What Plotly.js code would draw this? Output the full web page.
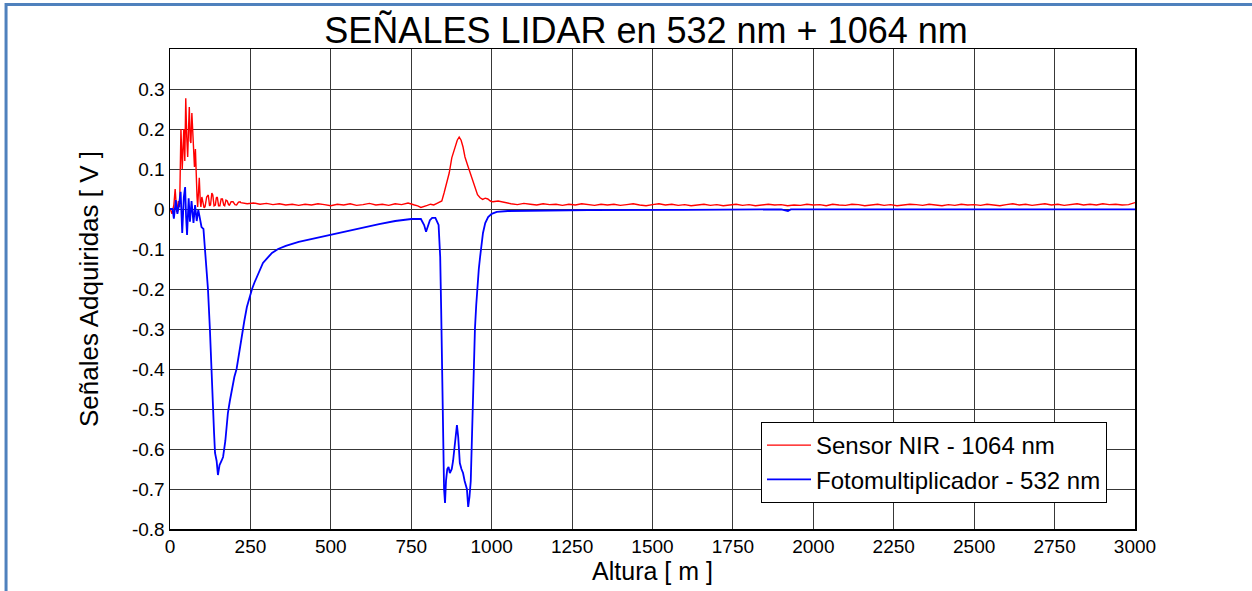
<!DOCTYPE html>
<html>
<head>
<meta charset="utf-8">
<script src="https://cdn.plot.ly/plotly-3.0.1.min.js"></script>
<style>html,body{margin:0;padding:0;background:#fff;}#chart{width:1252px;height:591px;}</style>
</head>
<body>
<div id="chart"></div>
<script>
// ---- Data ----
const chartTitle = "SEÑALES LIDAR en 532 nm + 1064 nm";
const xLabel = "Altura [ m ]";
const yLabel = "Señales Adquiridas [ V ]";
const redName = "Sensor NIR - 1064 nm";
const blueName = "Fotomultiplicador - 532 nm";

const xTickVals = [0,250,500,750,1000,1250,1500,1750,2000,2250,2500,2750,3000];
const xTickText = ["0","250","500","750","1000","1250","1500","1750","2000","2250","2500","2750","3000"];
const yTickVals = [-0.8,-0.7,-0.6,-0.5,-0.4,-0.3,-0.2,-0.1,0,0.1,0.2,0.3];
const yTickText = ["-0.8","-0.7","-0.6","-0.5","-0.4","-0.3","-0.2","-0.1","0","0.1","0.2","0.3"];

const redX = [0,6,12,16,21,26,30,34,38,43,46,49,52,55,58,60,63,65,68,70,73,76,79,81,84,86,89,91,94,96,99,102,106,109,114,119,123,126,130,133,137,141,144,147,151,155,159,163,167,170,174,178,182,185,190,196,202,207,213,218,
  220,240,260,280,300,320,340,360,380,400,420,440,460,480,500,520,540,560,580,600,620,640,660,680,700,720,740,760,770,780,790,800,810,820,830,840,845,852,861,868,876,886,893,899,905,911,917,925,933,940,948,956,964,972,980,988,996,1004,1020,1040,
  1060,1080,1100,1120,1140,1160,1180,1200,1220,1240,1260,1280,1300,1320,1340,1360,1380,1400,1420,1440,1460,1480,1500,1520,1540,1560,1580,1600,1620,1640,1660,1680,1700,1720,1740,1760,1780,1800,1820,1840,1860,1880,1900,1920,1940,1960,1980,2000,2020,2040,2060,2080,2100,2120,2140,2160,2180,2200,2220,2240,2260,2280,2300,2320,2340,2360,2380,2400,2420,2440,2460,2480,2500,2520,2540,2560,2580,2600,2620,2640,2660,2680,2700,2720,2740,2760,2780,2800,2820,2840,2860,2880,2900,2920,2940,2960,2980,3000];
const redY = [0.002,-0.012,0.01,0.05,-0.008,0.02,0.005,0.2,0.1,0.2,0.12,0.277,0.18,0.13,0.21,0.255,0.17,0.165,0.24,0.2,0.12,0.105,0.15,0.07,0.03,0.005,0.04,0.078,0.02,0.005,0.03,0.018,0.003,0.006,0.03,0.035,0.008,0.01,0.04,0.035,0.008,0.01,0.028,0.03,0.008,0.008,0.025,0.025,0.01,0.008,0.022,0.02,0.011,0.01,0.018,0.018,0.011,0.01,0.017,0.018,
  0.016,0.013,0.015,0.012,0.014,0.011,0.013,0.01,0.012,0.009,0.012,0.01,0.013,0.011,0.008,0.012,0.01,0.013,0.009,0.011,0.014,0.01,0.012,0.009,0.013,0.011,0.015,0.01,0.008,0.004,0.006,0.009,0.012,0.01,0.014,0.017,0.02,0.04,0.065,0.09,0.128,0.155,0.172,0.18,0.172,0.155,0.13,0.11,0.09,0.07,0.052,0.036,0.028,0.024,0.027,0.025,0.02,0.018,0.02,0.016,
  0.013,0.011,0.014,0.012,0.01,0.013,0.011,0.012,0.009,0.012,0.01,0.013,0.011,0.009,0.012,0.01,0.012,0.009,0.011,0.013,0.01,0.008,0.011,0.013,0.01,0.012,0.009,0.011,0.008,0.01,0.012,0.009,0.011,0.008,0.01,0.012,0.009,0.011,0.008,0.01,0.012,0.01,0.011,0.008,0.01,0.009,0.012,0.01,0.011,0.008,0.012,0.01,0.009,0.012,0.011,0.008,0.01,0.012,0.009,0.011,0.008,0.01,0.012,0.011,0.009,0.012,0.01,0.008,0.011,0.009,0.012,0.01,0.011,0.009,0.012,0.01,0.008,0.011,0.013,0.01,0.012,0.009,0.011,0.013,0.01,0.012,0.009,0.011,0.013,0.01,0.012,0.01,0.013,0.011,0.012,0.01,0.011,0.016];

const blueX = [0,8,12,18,23,28,33,38,43,47,50,53,58,62,67,73,78,83,88,93,98,104,109,114,118,124,130,133,137,140,145,149,154,160,165,172,180,186,192,200,207,215,223,231,239,247,255,262,270,280,289,303,317,336,360,400,450,500,550,600,650,700,750,780,790,796,802,808,815,825,835,840,843,846,849,852,855,858,862,866,870,876,880,886,892,896,901,906,911,916,923,927,931,935,938,942,945,948,952,955,960,964,968,973,980,989,1000,1016,1050,1120,1300,1600,1900,1921,1930,2000,2500,3000];
const blueY = [0,0,-0.024,0.022,-0.012,0.01,0.043,-0.06,0.03,0.055,-0.02,-0.065,0.027,-0.032,0.02,-0.035,0.01,-0.03,-0.002,-0.023,-0.045,-0.05,-0.1,-0.15,-0.2,-0.3,-0.43,-0.51,-0.56,-0.61,-0.63,-0.665,-0.64,-0.63,-0.62,-0.58,-0.51,-0.48,-0.45,-0.42,-0.4,-0.36,-0.31,-0.28,-0.245,-0.22,-0.2,-0.185,-0.17,-0.15,-0.135,-0.122,-0.11,-0.1,-0.092,-0.082,-0.073,-0.065,-0.056,-0.047,-0.038,-0.03,-0.025,-0.025,-0.04,-0.057,-0.045,-0.028,-0.022,-0.022,-0.04,-0.12,-0.25,-0.4,-0.6,-0.7,-0.735,-0.68,-0.65,-0.645,-0.66,-0.65,-0.63,-0.58,-0.54,-0.57,-0.635,-0.65,-0.66,-0.68,-0.7,-0.745,-0.72,-0.68,-0.58,-0.47,-0.38,-0.3,-0.24,-0.2,-0.15,-0.12,-0.09,-0.06,-0.035,-0.02,-0.012,-0.007,-0.005,-0.004,-0.003,-0.002,-0.001,-0.005,-0.001,-0.001,-0.001,-0.001];

// ---- Chart ----
const FONT = "Liberation Sans, Arial, Helvetica, sans-serif";
const traces = [
  {x: redX, y: redY, type: "scatter", mode: "lines", name: redName,
   line: {color: "#ff0000", width: 1.4}},
  {x: blueX, y: blueY, type: "scatter", mode: "lines", name: blueName,
   line: {color: "#0000ff", width: 1.8}}
];

const layout = {
  width: 1252, height: 591,
  margin: {l: 170, r: 117, t: 49, b: 62, pad: 0},
  paper_bgcolor: "#ffffff", plot_bgcolor: "#ffffff",
  font: {family: FONT, color: "#000000"},
  title: {text: chartTitle, font: {family: FONT, size: 36, color: "#000"},
          x: 0.516, xref: "container", xanchor: "center",
          y: 1 - 30/591, yref: "container", yanchor: "middle"},
  xaxis: {range: [0, 3000], tickmode: "array", tickvals: xTickVals, ticktext: xTickText,
          showgrid: true, gridcolor: "#383838", gridwidth: 1, zeroline: false,
          showline: true, linecolor: "#000", linewidth: 1.5, mirror: true,
          ticks: "", tickfont: {family: FONT, size: 19, color: "#000"},
          title: {text: xLabel, font: {family: FONT, size: 25, color: "#000"}, standoff: 6}},
  yaxis: {range: [-0.8, 0.4], tickmode: "array", tickvals: yTickVals, ticktext: yTickText,
          showgrid: true, gridcolor: "#383838", gridwidth: 1, zeroline: false,
          showline: true, linecolor: "#000", linewidth: 1.5, mirror: true,
          ticks: "", tickfont: {family: FONT, size: 19, color: "#000"},
          title: {text: yLabel, font: {family: FONT, size: 26, color: "#000"}, standoff: 26}},
  legend: {x: (761-170)/965, y: (529-422)/480, xanchor: "left", yanchor: "top",
           bgcolor: "#ffffff", bordercolor: "#000", borderwidth: 1, itemwidth: 44,
           font: {family: FONT, size: 24, color: "#000"}, tracegroupgap: 0},
  showlegend: true,
  shapes: [
    {type: "path", xref: "paper", yref: "paper",
     path: "M -0.1699,-0.2 L -0.1699,1.0927 L 1.13,1.0927",
     line: {color: "#4F81BD", width: 3}}
  ]
};

Plotly.newPlot("chart", traces, layout, {displayModeBar: false, staticPlot: true});
</script>
</body>
</html>
